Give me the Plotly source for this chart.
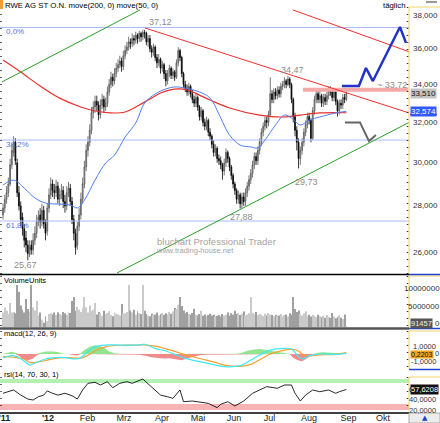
import math
import plotly.graph_objects as go

# ---------------- data ----------------
closes = [27.9, 28.3, 28.6, 29.0, 29.9, 30.6, 31.0, 30.1, 28.6, 28.0,
          27.4, 27.0, 26.5, 26.3, 25.95, 26.2, 26.1, 26.5, 26.8, 27.3,
          27.5, 27.3, 27.8, 27.2, 26.8, 27.9, 28.5, 29.0, 28.7, 28.6,
          28.9, 28.3, 28.5, 28.7, 28.2, 28.0, 28.6, 28.8, 28.2, 27.4,
          26.8, 26.2, 27.1, 27.6, 28.3, 29.0, 29.8, 30.6, 31.0, 31.6,
          32.5, 32.8, 33.1, 32.9, 32.4, 32.9, 33.2, 32.8, 33.0, 33.6,
          34.0, 34.4, 34.2, 34.6, 34.9, 35.1, 35.3, 35.0, 35.6, 35.9,
          36.1, 36.4, 36.3, 36.6, 36.5, 36.8, 36.6, 36.9, 36.7, 36.95,
          36.9, 36.4, 36.6, 36.0, 35.8, 36.1, 35.5, 35.2, 35.4, 34.9,
          35.1, 34.6, 34.2, 34.6, 34.9, 34.5, 34.7, 34.4, 35.2, 35.9,
          35.5, 34.6, 34.0, 33.8, 33.6, 33.9, 33.5, 33.2, 33.0, 33.3,
          32.8, 32.3, 32.6, 32.0, 31.8, 32.1, 31.5, 31.3, 30.9, 30.5,
          30.7, 30.2, 30.1, 29.9, 29.6, 30.0, 30.5, 30.2, 29.8, 29.4,
          29.0, 28.7, 28.3, 28.5, 28.1, 28.4, 28.2, 28.6, 28.9, 29.2,
          29.5, 29.9, 30.3, 30.1, 30.6, 31.0, 31.5, 31.8, 32.1, 32.0,
          32.4, 33.5, 33.2, 33.6, 33.4, 33.7, 33.5, 33.9, 34.0, 34.2,
          34.0, 34.3, 34.0, 33.2, 32.3, 31.6, 31.0, 30.2, 30.6, 31.0,
          31.5, 31.9, 32.3, 32.1, 31.2, 32.6, 33.2, 33.5, 33.2, 33.4,
          33.0, 33.3, 33.1, 33.4, 33.7, 33.6, 33.3, 33.6, 33.1, 32.6,
          33.0, 32.9, 33.3, 33.2, 33.51]
opens = [27.6, 27.9, 28.3, 28.6, 29.0, 29.9, 30.5, 31.0, 30.0, 28.6,
         28.0, 27.5, 27.0, 26.6, 26.3, 25.9, 26.3, 26.1, 26.5, 26.8,
         27.3, 27.6, 27.3, 27.8, 27.2, 26.9, 27.9, 28.5, 29.0, 28.7,
         28.6, 28.9, 28.3, 28.5, 28.7, 28.2, 28.0, 28.6, 28.8, 28.2,
         27.4, 26.8, 26.3, 27.1, 27.6, 28.3, 29.0, 29.8, 30.6, 31.0,
         31.6, 32.5, 32.8, 33.1, 32.9, 32.4, 32.9, 33.2, 32.8, 33.0,
         33.6, 34.0, 34.4, 34.2, 34.6, 34.9, 35.1, 35.3, 35.0, 35.6,
         35.9, 36.1, 36.4, 36.3, 36.6, 36.5, 36.8, 36.6, 36.9, 36.7,
         36.95, 36.9, 36.4, 36.6, 36.0, 35.8, 36.1, 35.5, 35.2, 35.4,
         34.9, 35.1, 34.6, 34.2, 34.6, 34.9, 34.5, 34.7, 34.4, 35.2,
         35.9, 35.5, 34.6, 34.0, 33.8, 33.6, 33.9, 33.5, 33.2, 33.0,
         33.3, 32.8, 32.3, 32.6, 32.0, 31.8, 32.1, 31.5, 31.3, 30.9,
         30.5, 30.7, 30.2, 30.1, 29.9, 29.6, 30.0, 30.5, 30.2, 29.8,
         29.4, 29.0, 28.7, 28.3, 28.5, 28.1, 28.4, 28.2, 28.6, 28.9,
         29.2, 29.5, 29.9, 30.3, 30.1, 30.6, 31.0, 31.5, 31.8, 32.1,
         32.0, 32.4, 33.5, 33.2, 33.6, 33.4, 33.7, 33.5, 33.9, 34.0,
         34.2, 34.0, 34.3, 34.0, 33.2, 32.3, 31.6, 31.0, 30.2, 30.6,
         31.0, 31.5, 31.9, 32.3, 32.1, 31.2, 32.6, 33.2, 33.5, 33.2,
         33.4, 33.0, 33.3, 33.1, 33.4, 33.7, 33.6, 33.3, 33.6, 33.1,
         32.6, 33.0, 32.9, 33.3, 33.2]
highs = [28.1, 28.5, 28.9, 29.3, 30.2, 30.9, 31.3, 31.2, 30.2, 28.9,
         28.2, 27.7, 27.2, 26.9, 26.5, 26.5, 26.5, 26.8, 27.1, 27.6,
         27.8, 27.9, 28.1, 28.0, 27.4, 28.1, 28.8, 29.3, 29.2, 29.0,
         29.2, 29.1, 28.8, 29.0, 28.9, 28.5, 28.9, 29.1, 29.0, 28.4,
         27.6, 27.0, 27.3, 27.9, 28.6, 29.3, 30.1, 30.9, 31.3, 31.9,
         32.8, 33.1, 33.4, 33.4, 33.1, 33.2, 33.5, 33.4, 33.3, 33.9,
         34.3, 34.7, 34.6, 34.9, 35.2, 35.4, 35.6, 35.5, 35.9, 36.2,
         36.4, 36.7, 36.6, 36.9, 36.8, 37.0, 36.9, 37.05, 37.0, 37.12,
         37.1, 37.0, 36.8, 36.8, 36.2, 36.3, 36.2, 35.7, 35.7, 35.5,
         35.3, 35.2, 34.8, 34.8, 35.1, 35.0, 34.9, 34.8, 35.4, 36.1,
         36.0, 35.6, 34.7, 34.2, 34.0, 34.1, 34.0, 33.7, 33.4, 33.5,
         33.4, 32.9, 32.8, 32.7, 32.2, 32.3, 32.2, 31.7, 31.4, 31.1,
         30.9, 30.8, 30.4, 30.3, 30.0, 30.2, 30.7, 30.6, 30.3, 29.9,
         29.5, 29.1, 28.8, 28.7, 28.6, 28.6, 28.6, 28.8, 29.1, 29.4,
         29.7, 30.1, 30.5, 30.5, 30.8, 31.2, 31.7, 32.0, 32.3, 32.3,
         32.6, 34.4, 33.7, 33.8, 33.8, 33.9, 33.9, 34.1, 34.2, 34.4,
         34.3, 34.47, 34.4, 34.1, 33.3, 32.5, 31.8, 31.2, 30.8, 31.2,
         31.7, 32.1, 32.5, 32.5, 32.2, 32.8, 33.4, 33.8, 33.7, 33.7,
         33.5, 33.5, 33.5, 33.6, 33.9, 33.9, 33.7, 33.8, 33.7, 33.2,
         33.2, 33.2, 33.5, 33.5, 33.7]
lows = [27.4, 27.7, 28.1, 28.4, 28.9, 29.7, 30.3, 29.9, 28.4, 27.8,
        27.1, 26.7, 26.2, 26.0, 25.67, 25.8, 25.9, 25.9, 26.3, 26.6,
        27.1, 27.0, 27.1, 27.0, 26.5, 26.7, 27.7, 28.3, 28.4, 28.3,
        28.4, 28.1, 28.0, 28.3, 27.9, 27.7, 27.8, 28.4, 28.0, 27.2,
        26.5, 25.9, 26.1, 26.9, 27.4, 28.1, 28.8, 29.6, 30.3, 30.8,
        31.4, 32.2, 32.5, 32.6, 32.1, 32.2, 32.7, 32.5, 32.6, 32.8,
        33.4, 33.8, 33.9, 34.0, 34.4, 34.7, 34.9, 34.7, 34.8, 35.4,
        35.7, 35.9, 36.0, 36.1, 36.2, 36.3, 36.3, 36.4, 36.4, 36.5,
        36.6, 36.2, 36.1, 35.8, 35.5, 35.6, 35.3, 34.9, 35.0, 34.6,
        34.7, 34.3, 33.9, 34.0, 34.4, 34.3, 34.3, 34.2, 34.3, 35.0,
        35.3, 34.4, 33.8, 33.6, 33.4, 33.4, 33.3, 33.0, 32.8, 32.8,
        32.6, 32.1, 32.1, 31.8, 31.6, 31.6, 31.3, 31.1, 30.7, 30.3,
        30.3, 30.0, 29.9, 29.7, 29.2, 29.4, 29.8, 30.0, 29.6, 29.2,
        28.8, 28.5, 28.1, 28.1, 27.88, 27.9, 28.0, 28.0, 28.4, 28.7,
        29.0, 29.3, 29.7, 29.9, 29.9, 30.4, 30.8, 31.3, 31.6, 31.7,
        31.8, 32.3, 33.0, 33.0, 33.2, 33.2, 33.3, 33.3, 33.7, 33.8,
        33.8, 33.9, 33.8, 33.0, 32.0, 31.3, 30.6, 29.73, 29.9, 30.4,
        30.8, 31.3, 31.7, 31.9, 31.0, 31.1, 32.4, 33.0, 33.0, 33.0,
        32.8, 32.8, 32.9, 32.9, 33.2, 33.4, 33.1, 33.1, 32.9, 32.3,
        32.4, 32.7, 32.7, 33.0, 33.1]
volume_mio = [4.0, 5.4, 4.5, 3.6, 6.7, 4.0, 4.2, 3.8, 11.7,
              9.8, 6.0, 4.8, 4.0,
              7.8, 5.0, 4.3, 11.7,
              5.4, 4.6, 7.2, 3.2, 4.0,
              2.1, 1.2, 3.0, 1.6, 3.6,
              3.8, 3.5, 4.0, 3.3, 4.1, 3.6, 3.2, 4.2, 3.8, 3.4, 4.0, 3.9,
              7.2, 8.3, 4.5,
              5.6, 4.8, 4.2, 5.2, 8.3,
              5.5, 4.0, 6.0, 4.4, 4.8, 6.7,
              3.5, 4.2, 3.8, 3.1, 4.5, 3.6, 3.9, 4.4, 3.3, 3.0, 4.1, 3.7, 3.5, 3.2,
              6.4, 3.8,
              3.8, 4.2, 11.7,
              4.6, 4.0, 4.8, 3.4, 4.4, 3.9, 3.6,
              11.7,
              4.5, 3.6, 3.2, 3.0, 3.7, 3.3, 3.5, 4.0, 3.2, 3.6, 3.9, 3.4, 3.8, 3.5, 4.2, 3.7,
              4.4, 5.3, 4.9, 6.2, 8.3, 5.8, 4.6,
              3.8, 4.2, 3.6, 3.3, 3.9, 5.1, 3.4, 3.2, 3.6, 4.5, 3.1, 3.5, 3.0, 3.3, 3.7, 3.2, 3.4, 3.0,
              3.1, 3.3, 2.9, 3.6, 3.2, 3.4, 4.0, 3.1, 3.8, 3.5, 4.5, 3.6, 3.9, 3.3, 3.7, 4.3, 3.2, 3.5, 3.8,
              8.3,
              3.9, 3.5, 4.2, 3.3, 3.6, 3.4, 3.1, 3.7, 3.2, 3.9, 3.5, 3.3, 3.0, 3.4, 3.1, 3.2, 3.6, 3.0, 3.3, 3.5, 2.9, 3.8,
              3.4,
              8.3,
              5.0, 4.2, 4.6, 3.6, 3.2, 3.8, 4.4, 3.0, 3.4, 2.9, 3.3, 3.1, 2.8, 3.4, 3.0, 2.7,
              3.1, 2.6, 3.3, 2.8, 2.5, 3.9, 2.9, 2.4, 2.7, 3.2, 2.6, 2.2, 3.5,
              0.091457]

ma200_idx = [0, 10, 21, 32, 44, 52, 61, 69, 77, 83, 89, 94, 100, 106, 111, 117, 128, 145, 157, 168, 179, 194]
ma200_val = [35.36, 34.69, 33.92, 33.27, 32.80, 32.59, 32.49, 32.54, 32.90, 33.22, 33.54, 33.70, 33.76,
             33.65, 33.43, 33.17, 32.75, 32.38, 32.28, 32.38, 32.49, 32.50]
ma50_idx = [0, 6, 12, 18, 24, 32, 38, 42, 46, 52, 58, 63, 69, 75, 80, 86, 92, 97, 103, 111, 117, 123,
            128, 134, 140, 144, 148, 154, 159, 163, 168, 173, 179, 188, 194]
ma50_val = [28.95, 29.18, 28.81, 28.36, 28.13, 28.08, 28.04, 27.91, 28.26, 29.18, 29.99, 30.37, 31.26,
            31.97, 33.01, 33.49, 33.76, 33.87, 33.81, 33.60, 33.27, 32.23, 31.36, 30.86, 30.77, 30.72,
            31.11, 31.87, 32.38, 32.23, 31.87, 32.12, 32.28, 32.49, 32.574]

macd_idx = [0, 6, 12, 15, 18, 24, 29, 35, 41, 44, 48, 52, 58, 66, 77, 80, 86, 92, 97, 103, 111, 120,
            125, 134, 140, 145, 151, 159, 163, 167, 169, 173, 179, 188, 194]
macd_val = [-0.57, -0.26, -1.08, -1.7, -1.4, -0.77, -0.56, -0.56, -0.77, -0.56, 0.36, 1.1, 1.38, 1.38,
            1.38, 1.5, 0.87, 0.46, -0.05, -0.67, -1.18, -1.7, -1.95, -1.8, -0.92, -0.15, 0.6, 0.87,
            0.77, -0.4, -0.77, -0.26, 0.0, -0.05, 0.1]
signal_val = [-0.4, -0.5, -0.8, -1.3, -1.3, -1.0, -0.7, -0.55, -0.6, -0.65, -0.2, 0.5, 1.1, 1.35,
              1.38, 1.4, 1.2, 0.8, 0.4, -0.1, -0.7, -1.3, -1.7, -1.9, -1.6, -0.9, 0.0, 0.6, 0.75,
              0.45, 0.0, -0.3, -0.15, -0.05, 0.2203]
hist_idx = [0, 3, 5, 7, 9, 11, 14, 17, 19, 21, 24, 28, 31, 34, 37, 40, 42, 44, 46, 49,
            52, 55, 58, 60, 63, 66, 69, 72, 75, 77, 81, 84, 88, 91, 94, 98, 101, 105, 108, 111,
            115, 118, 121, 125, 128, 132, 135, 138, 142, 145, 149, 152, 155, 159, 162, 164, 167, 169, 172, 175,
            178, 181, 185, 188, 192, 194]
hist_val = [0.0, 0.2, 0.35, 0.2, -0.3, -0.7, -1.0, -0.7, -0.2, 0.2,
            0.4, 0.4, 0.3, 0.05, 0.0, -0.2, -0.25, 0.1, 0.6, 1.1,
            1.35, 1.2, 0.8, 0.4, 0.1, 0.05, -0.05, 0.05, 0.0, -0.1,
            -0.3, -0.5, -0.6, -0.7, -0.65, -0.8, -0.95, -0.6, -0.35, -0.2,
            -0.1, -0.1, -0.1, -0.05, 0.0, 0.05, 0.2, 0.5, 0.7, 0.75,
            0.6, 0.45, 0.3, 0.15, 0.0, -0.6, -1.0, -1.1, -0.6, -0.1,
            0.2, 0.25, 0.2, 0.15, 0.1, 0.05]

rsi_idx = [0, 6, 10, 14, 17, 20, 23, 25, 28, 31, 35, 39, 42, 45, 48, 52, 55, 59, 62, 66,
           70, 73, 79, 81, 85, 89, 93, 96, 100, 102, 107, 111, 116, 121, 123, 127, 131, 136, 141, 145,
           149, 155, 159, 163, 165, 168, 171, 175, 179, 184, 188, 190, 194]
rsi_val = [50.4, 56.7, 47.1, 39.5, 37.6, 43.9, 47.0, 54.8, 50.4, 47.0,
           50.4, 45.8, 39.5, 56.7, 69.4, 71.3, 66.2, 72.5, 61.0, 69.4,
           72.5, 69.4, 77.6, 71.3, 60.0, 47.0, 43.9, 40.8, 56.7, 34.4,
           35.7, 33.2, 31.3, 23.0, 29.4, 34.4, 26.2, 35.7, 50.4, 56.7,
           63.0, 60.0, 66.2, 66.2, 50.4, 35.7, 47.1, 56.7, 53.4, 56.7,
           50.4, 53.4, 57.6208]
rsi_bands = [(70, 77.6, '#b4f0b4'), (18.6, 30, '#f8b4b4')]

fib_levels = [37.25, 31.11, 27.33]
fib_labels = ["0,0%", "38,2%", "61,8%"]
price_ticks = [38, 36, 34, 32, 30, 28, 26]
vol_ticks = [10, 5, 0]
vol_tick_text = ["10000000", "5000000", "0"]
macd_ticks = [1, 0, -1]
macd_tick_text = ["1,0000", "0", "-1,0000"]
rsi_ticks = [60, 40, 20]
rsi_tick_text = ["60,0000", "40,0000", "20,0000"]
month_pos = [0.85, 25.4, 47.7, 68.4, 89.8, 110.2, 130.5, 150.6, 172.9, 195.2, 214.7]
month_labels = ["<b>'11</b>", "<b>'12</b>", "Feb", "Mrz", "Apr", "Mai", "Jun", "Jul", "Aug", "Sep", "Okt"]

# drawn trend lines / scenarios: (trading-day index, price)
green_upper = ([-0.6, 77.4], [34.14, 38.31])
green_lower = ([64.4, 229.4], [25.15, 32.0])
red_lower = ([80.2, 229.4], [37.22, 32.49])
red_upper = ([163.8, 229.4], [38.31, 35.83])
resistance = ([169.5, 229.0], [33.72, 33.72])
resistance_label = "~ 33,72"
blue_scenario = ([191.5, 201.1, 205.1, 209.0, 224.3, 227.7], [33.92, 33.92, 34.91, 34.19, 37.28, 36.34])
grey_scenario = ([193.2, 201.7, 206.8, 210.7], [32.0, 32.0, 31.06, 31.36])
extremes = [(79, 'high'), (161, 'high'), (14, 'low'), (134, 'low'), (167, 'low')]

# ---------------- figure ----------------
W, H = 440, 423
def X(px): return px / W
def Y(px): return 1 - px / H

n = len(closes)
assert all(len(a) == n for a in (opens, highs, lows, volume_mio))
idx = list(range(n))
x_range = [-1.7, 229.4]
NARROW = "Liberation Sans Narrow, Arial Narrow, Liberation Sans, Arial, sans-serif"
SANS = "Liberation Sans, Arial, sans-serif"

fig = go.Figure()
def line_trace(x, y, color, width, yaxis='y', shape='linear'):
    fig.add_trace(go.Scatter(x=x, y=y, mode='lines', yaxis=yaxis, hoverinfo='skip',
                             line=dict(color=color, width=width, shape=shape)))

for lvl in fib_levels:
    line_trace(x_range, [lvl, lvl], '#a9bcf5', 1)
line_trace(resistance[0], resistance[1], '#f6a9a9', 4)
line_trace(ma200_idx, ma200_val, '#e8302c', 1.2, shape='spline')
line_trace(ma50_idx, ma50_val, '#4f7ff0', 1, shape='spline')

fig.add_trace(go.Candlestick(
    x=idx, open=opens, high=highs, low=lows, close=closes, whiskerwidth=0, hoverinfo='skip',
    increasing=dict(line=dict(color='#555555', width=0.8), fillcolor='#b8b8b8'),
    decreasing=dict(line=dict(color='#000000', width=0.8), fillcolor='#111111')))

line_trace(green_upper[0], green_upper[1], '#2ca02c', 1)
line_trace(green_lower[0], green_lower[1], '#2ca02c', 1)
line_trace(red_lower[0], red_lower[1], '#f03030', 1)
line_trace(red_upper[0], red_upper[1], '#f03030', 1)
line_trace(blue_scenario[0], blue_scenario[1], '#2233c8', 2.5)
line_trace(grey_scenario[0], grey_scenario[1], '#666666', 2)

# volume
vol_colors = ['#cacaca' if c >= o else '#a0a0a0' for o, c in zip(opens, closes)]
fig.add_trace(go.Bar(x=idx, y=volume_mio, yaxis='y2', width=0.55, marker=dict(color=vol_colors, line=dict(width=0)),
                     hoverinfo='skip'))

# macd
fig.add_trace(go.Scatter(x=hist_idx, y=[max(v, 0) for v in hist_val], yaxis='y3', mode='lines', fill='tozeroy',
                         line=dict(width=0, color='#8fe68f'), fillcolor='#8fe68f', hoverinfo='skip'))
fig.add_trace(go.Scatter(x=hist_idx, y=[min(v, 0) for v in hist_val], yaxis='y3', mode='lines', fill='tozeroy',
                         line=dict(width=0, color='#f38a8a'), fillcolor='#f38a8a', hoverinfo='skip'))
line_trace(macd_idx, signal_val, '#f5a030', 1.2, yaxis='y3', shape='spline')
line_trace(macd_idx, macd_val, '#3ee8f5', 1.2, yaxis='y3', shape='spline')

# rsi
line_trace(rsi_idx, rsi_val, '#111111', 0.9, yaxis='y4')

common_y = dict(side='right', anchor='x', showgrid=False, zeroline=False, showticklabels=False,
                ticks='', showline=False)
fig.update_layout(
    width=W, height=H, margin=dict(l=0, r=0, t=0, b=0),
    paper_bgcolor='white', plot_bgcolor='white', showlegend=False, hovermode=False,
    xaxis=dict(domain=[0, X(409)], range=x_range, anchor='y4', showgrid=False, zeroline=False,
               showline=False, ticks='', tickmode='array', tickvals=month_pos, ticktext=month_labels,
               ticklabeloverflow='allow',
               tickfont=dict(family=NARROW, size=9, color='#222'), rangeslider=dict(visible=False)),
    yaxis=dict(domain=[Y(274), Y(7)], type='log', range=[math.log10(25.11), math.log10(38.49)], **common_y),
    yaxis2=dict(domain=[Y(328), Y(276)], range=[-0.28, 14.17], **common_y),
    yaxis3=dict(domain=[Y(369), Y(331)], range=[-2.31, 3.54], **common_y),
    yaxis4=dict(domain=[Y(411), Y(377)], range=[16.7, 81.4], **common_y),
)

shapes = []
def hline(ypx, x0, x1, color, width, dash='solid'):
    shapes.append(dict(type='line', xref='paper', yref='paper', x0=X(x0), x1=X(x1), y0=Y(ypx), y1=Y(ypx),
                       line=dict(color=color, width=width, dash=dash)))
def vline(xpx, y0, y1, color, width, dash='solid'):
    shapes.append(dict(type='line', xref='paper', yref='paper', x0=X(xpx), x1=X(xpx), y0=Y(y0), y1=Y(y1),
                       line=dict(color=color, width=width, dash=dash)))

for lo, hi, col in rsi_bands:
    shapes.append(dict(type='rect', xref='paper', yref='y4', x0=0, x1=X(409), y0=lo, y1=hi,
                       fillcolor=col, line=dict(width=0), layer='below'))

panels = [(7, 274), (276, 328), (331, 369), (377, 411)]
for top, bot in panels:
    vline(409, top, bot, '#f0d36a', 1)
    hline(top, 409, 440, '#f0d36a', 1)
    vline(1, top, bot, '#333333', 1.5, dash='1px,6px')
    vline(407.5, top, bot, '#333333', 1.5, dash='1px,6px')
hline(274.5, 0, 409, '#000000', 1.5)
hline(274.5, 409, 440, '#2040d0', 1.5)
hline(328.5, 0, 409, '#555555', 2.5)
hline(328.5, 409, 440, '#2040d0', 1.5)
hline(369.5, 409, 440, '#2040d0', 1.5)
hline(413, 0, 409, '#000000', 1.5)
hline(114.5, 410, 437, '#e02020', 1.5)
shapes.append(dict(type='rect', xref='paper', yref='paper', x0=X(409), x1=X(440), y0=Y(423), y1=Y(413),
                   fillcolor='#ececec', line=dict(color='#aaaaaa', width=1)))
shapes.append(dict(type='rect', xref='paper', yref='paper', x0=0, x1=X(3), y0=Y(9), y1=Y(0),
                   fillcolor='#f0a030', line=dict(width=0)))
hline(2, 426, 437, '#999999', 2)
fig.update_layout(shapes=shapes)

ann = []
def txt(text, x, y, xref='paper', yref='paper', size=8, color='#222', family=NARROW, xanchor='center',
        yanchor='middle', bg=None, xshift=0, yshift=0):
    d = dict(text=text, x=x, y=y, xref=xref, yref=yref, showarrow=False, xanchor=xanchor, yanchor=yanchor,
             font=dict(family=family, size=size, color=color), xshift=xshift, yshift=yshift, borderpad=0)
    if bg:
        d['bgcolor'] = bg
    ann.append(d)

def fmt(v, d):
    return f"{v:.{d}f}".replace('.', ',')

txt("RWE AG ST O.N. move(200, 0) move(50, 0)", X(4), Y(5), size=7.8, color='#000', xanchor='left')
txt("täglich", X(407), Y(5), size=7.8, color='#000', xanchor='right')
txt("VolumeUnits", X(3), Y(280), size=7.5, color='#000', xanchor='left')
txt("macd(12, 26, 9)", X(3), Y(333), size=7.5, color='#000', xanchor='left')
txt("rsi(14, 70, 30, 1)", X(3), Y(374.5), size=7.5, color='#000', xanchor='left')

for v in price_ticks:
    txt(f"{v},000", X(439), math.log10(v), yref='y', xanchor='right', color='#333')
for v, t in zip(vol_ticks, vol_tick_text):
    txt(t, X(441), v, yref='y2', xanchor='right', color='#333', yshift=3)
macd_shift = {1: 1.5, 0: 0, -1: -1.5}
for v, t in zip(macd_ticks, macd_tick_text):
    txt(t, X(440) if v == 0 else X(437), v, yref='y3', xanchor='right', color='#333', size=7.5,
        yshift=macd_shift[v])
for v, t in zip(rsi_ticks, rsi_tick_text):
    txt(t, X(437), v, yref='y4', xanchor='right', color='#333', size=7.5, yshift=-1)

txt(fmt(closes[-1], 3), X(410), math.log10(closes[-1]), yref='y', xanchor='left', color='#111', bg='#c4c4c4')
txt(fmt(ma50_val[-1], 3), X(410), math.log10(ma50_val[-1]), yref='y', xanchor='left', color='#ffffff', bg='#3358ff')
txt(str(round(volume_mio[-1] * 1e6)), X(410), 0, yref='y2', xanchor='left', color='#eeeeee', bg='#555555',
    yshift=3, size=7.5)
txt(fmt(signal_val[-1], 4), X(410), signal_val[-1], yref='y3', xanchor='left', color='#111', bg='#f5a020',
    yshift=-1.5, size=7)
txt(fmt(rsi_val[-1], 4), X(410), rsi_val[-1], yref='y4', xanchor='left', color='#ffffff', bg='#111111', size=7.5)

for lvl, lab in zip(fib_levels, fib_labels):
    txt(lab, X(5), math.log10(lvl), yref='y', xanchor='left', color='#5574e6', size=8, yshift=-4.5)

ext_shift = {79: (18, 8), 161: (5, 6), 14: (-2, -5), 134: (1, -8.5), 167: (8, -13.5)}
for i, kind in extremes:
    v = highs[i] if kind == 'high' else lows[i]
    xs, ys = ext_shift[i]
    txt(fmt(v, 2), i, math.log10(v), xref='x', yref='y', size=9, color='#8c8c8c', xshift=xs, yshift=ys)
txt(resistance_label, X(392), math.log10(resistance[1][0]), yref='y', size=9, color='#8c8c8c', yshift=5)

txt("bluchart Professional Trader", X(216), Y(241), size=9.5, color='#a4a4a4', family=SANS)
txt("www.trading-house.net", X(195), Y(250.5), size=7.5, color='#a4a4a4', family=SANS)
txt("▲", X(425), Y(418), size=7, color='#2040c0', family="DejaVu Sans")

fig.update_layout(annotations=ann)
fig.write_html("out.html")
